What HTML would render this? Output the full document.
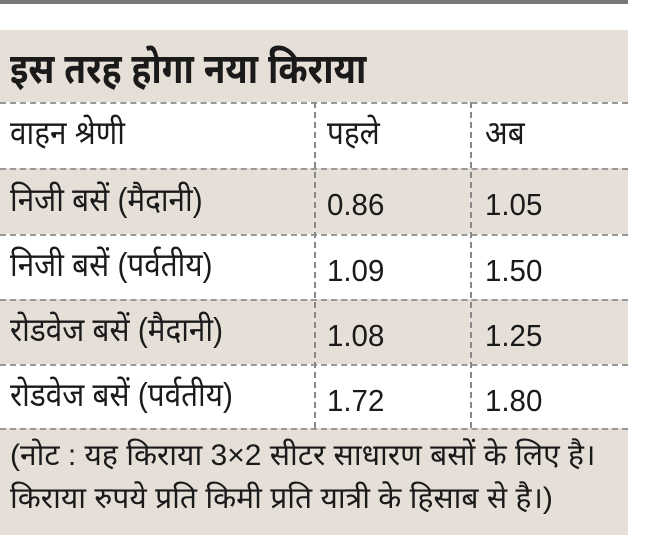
<!DOCTYPE html>
<html><head><meta charset="utf-8"><style>
body{margin:0;width:650px;height:558px;background:#fff;position:relative;overflow:hidden;font-family:"Liberation Sans","Noto Sans Devanagari","Lohit Devanagari",sans-serif;color:#1a1a1a}
.b{position:absolute;left:0;width:628px}
.bg{background:#e6dfd8}
.hl{position:absolute;left:0;width:628px;height:0;border-top:2px dashed #999}
.vl{position:absolute;top:102px;height:326px;border-left:2px dashed #888}
.t{position:absolute;white-space:nowrap;line-height:1;transform-origin:0 0}
.c{font-size:33px;transform:scaleX(0.9)}
.n{font-size:31px;transform:scaleX(0.95)}
</style></head><body>
<div class="b" style="top:0;height:4px;background:#777"></div>
<div class="b bg" style="top:30px;height:72px"></div>
<div class="b bg" style="top:168px;height:66px"></div>
<div class="b bg" style="top:299px;height:65px"></div>
<div class="b bg" style="top:428px;height:107px"></div>
<div class="hl" style="top:102px"></div>
<div class="hl" style="top:168px"></div>
<div class="hl" style="top:234px"></div>
<div class="hl" style="top:299px"></div>
<div class="hl" style="top:364px"></div>
<div class="hl" style="top:428px"></div>
<div class="vl" style="left:314px"></div>
<div class="vl" style="left:470px"></div>
<div class="t" style="left:10px;top:48px;font-size:42px;font-weight:bold;transform:scaleX(0.84)">इस तरह होगा नया किराया</div>
<div class="t c" style="left:10px;top:116px">वाहन श्रेणी</div>
<div class="t c" style="left:327px;top:116px">पहले</div>
<div class="t c" style="left:485px;top:116px">अब</div>
<div class="t c" style="left:10px;top:183px">निजी बसें (मैदानी)</div>
<div class="t n" style="left:327px;top:189px">0.86</div>
<div class="t n" style="left:485px;top:189px">1.05</div>
<div class="t c" style="left:10px;top:248px">निजी बसें (पर्वतीय)</div>
<div class="t n" style="left:327px;top:255px">1.09</div>
<div class="t n" style="left:485px;top:255px">1.50</div>
<div class="t c" style="left:10px;top:313px">रोडवेज बसें (मैदानी)</div>
<div class="t n" style="left:327px;top:320px">1.08</div>
<div class="t n" style="left:485px;top:320px">1.25</div>
<div class="t c" style="left:10px;top:378px">रोडवेज बसें (पर्वतीय)</div>
<div class="t n" style="left:327px;top:385px">1.72</div>
<div class="t n" style="left:485px;top:385px">1.80</div>
<div class="t" style="left:10px;top:441px;font-size:30px">(नोट : यह किराया 3×2 सीटर साधारण बसों के लिए है।</div>
<div class="t" style="left:10px;top:484px;font-size:30px">किराया रुपये प्रति किमी प्रति यात्री के हिसाब से है।)</div>
</body></html>
